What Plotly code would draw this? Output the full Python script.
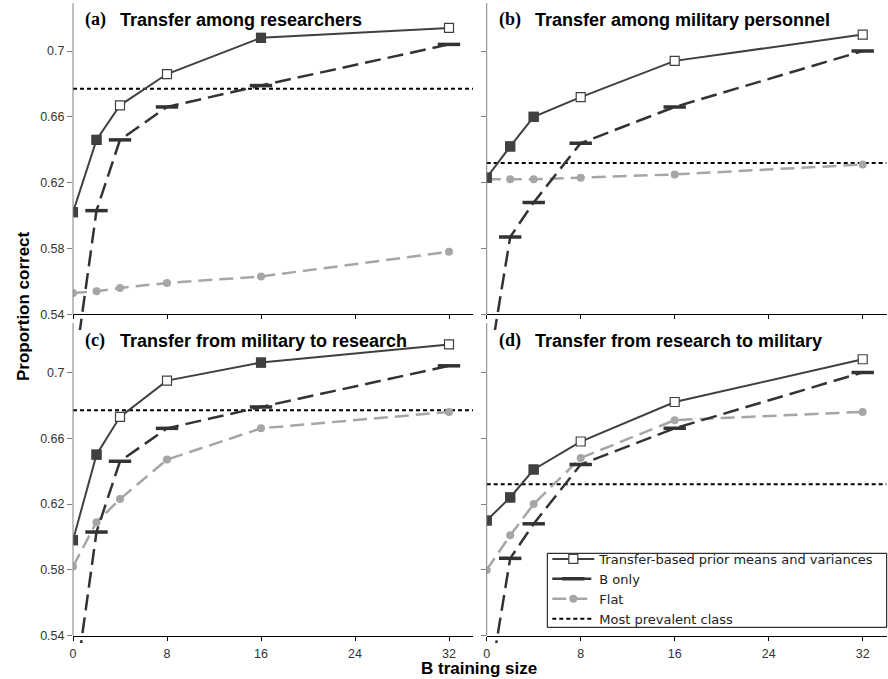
import plotly.graph_objects as go

# ---------------- data ----------------
SIZES = [0, 2, 4, 8, 16, 32]
X_TICKS = [0, 8, 16, 24, 32]
Y_TICKS = [0.54, 0.58, 0.62, 0.66, 0.70]
Y_TICK_TEXT = ["0.54", "0.58", "0.62", "0.66", "0.7"]

PANEL_LETTERS = ["(a)", "(b)", "(c)", "(d)"]
PANEL_TITLES = [
    "Transfer among researchers",
    "Transfer among military personnel",
    "Transfer from military to research",
    "Transfer from research to military",
]

transfer_a = [0.602, 0.646, 0.667, 0.686, 0.708, 0.714]
transfer_b = [0.623, 0.642, 0.660, 0.672, 0.694, 0.710]
transfer_c = [0.598, 0.650, 0.673, 0.695, 0.706, 0.717]
transfer_d = [0.610, 0.624, 0.641, 0.658, 0.682, 0.708]

# filled square = True, open square = False
filled_a = [True, True, False, False, True, False]
filled_b = [True, True, True, False, False, False]
filled_c = [True, True, False, False, True, False]
filled_d = [True, True, True, False, False, False]

bonly_research = [0.500, 0.603, 0.646, 0.666, 0.679, 0.704]
bonly_military = [0.500, 0.587, 0.608, 0.644, 0.666, 0.700]

flat_a = [0.553, 0.554, 0.556, 0.559, 0.563, 0.578]
flat_b = [0.622, 0.622, 0.622, 0.623, 0.625, 0.631]
flat_c = [0.582, 0.609, 0.623, 0.647, 0.666, 0.676]
flat_d = [0.580, 0.601, 0.620, 0.648, 0.671, 0.676]

prevalent_research = 0.677
prevalent_military = 0.632

LEGEND_NAMES = ["Transfer-based prior means and variances", "B only", "Flat",
                "Most prevalent class"]

# ---------------- layout helpers ----------------
W, H = 888, 679
XMAX = 34.04
PX_PER_X = 11.75
PX_PER_Y = 1645.6

def fx(p):
    return p / W

def fy(p):
    return 1 - p / H

panels = [
    dict(transfer=transfer_a, filled=filled_a, bonly=bonly_research, flat=flat_a,
         prev=prevalent_research, left=73.0, axis_py=314.3, top_py=3.0, bot_py=330.0,
         ylabels=True, xlabels=False, letter_x=83, title_x=118, title_y=19.5),
    dict(transfer=transfer_b, filled=filled_b, bonly=bonly_military, flat=flat_b,
         prev=prevalent_military, left=486.7, axis_py=314.3, top_py=3.0, bot_py=330.0,
         ylabels=False, xlabels=False, letter_x=496.7, title_x=532.7, title_y=19.5),
    dict(transfer=transfer_c, filled=filled_c, bonly=bonly_research, flat=flat_c,
         prev=prevalent_research, left=73.0, axis_py=635.7, top_py=323.0, bot_py=643.0,
         ylabels=True, xlabels=True, letter_x=83, title_x=118, title_y=340.5),
    dict(transfer=transfer_d, filled=filled_d, bonly=bonly_military, flat=flat_d,
         prev=prevalent_military, left=486.7, axis_py=635.7, top_py=323.0, bot_py=643.0,
         ylabels=False, xlabels=True, letter_x=496.7, title_x=532.7, title_y=340.5),
]

DARK = "#404040"
BONLY_C = "#333333"
FLAT_C = "#a6a6a6"
FONT = "Liberation Sans, Arial, sans-serif"
SERIF = "Liberation Serif, Times New Roman, serif"

fig = go.Figure()
shapes = []
annotations = []

for i, p in enumerate(panels):
    n = "" if i == 0 else str(i + 1)
    xref, yref = "x" + n, "y" + n
    first = i == 0

    ybot = 0.54 - (p["bot_py"] - p["axis_py"]) / PX_PER_Y
    ytop = 0.54 + (p["axis_py"] - p["top_py"]) / PX_PER_Y

    # most prevalent class
    fig.add_trace(go.Scatter(
        x=[0, XMAX], y=[p["prev"], p["prev"]], mode="lines",
        line=dict(color="black", width=2, dash="4px,3px"),
        name=LEGEND_NAMES[3], legendrank=4, showlegend=first,
        xaxis=xref, yaxis=yref, hoverinfo="skip"))
    # flat
    fig.add_trace(go.Scatter(
        x=SIZES, y=p["flat"], mode="lines+markers",
        line=dict(color=FLAT_C, width=2.5, dash="14px,7px"),
        marker=dict(symbol="circle", size=8, color=FLAT_C),
        name=LEGEND_NAMES[2], legendrank=3, showlegend=first,
        xaxis=xref, yaxis=yref))
    # B only
    fig.add_trace(go.Scatter(
        x=SIZES, y=p["bonly"], mode="lines+markers",
        line=dict(color=BONLY_C, width=2.5, dash="16px,7px"),
        marker=dict(symbol="line-ew", size=16, line=dict(color=BONLY_C, width=3.5)),
        name=LEGEND_NAMES[1], legendrank=2, showlegend=first,
        xaxis=xref, yaxis=yref))
    # transfer (open squares)
    fig.add_trace(go.Scatter(
        x=SIZES, y=p["transfer"], mode="lines+markers",
        line=dict(color=DARK, width=2),
        marker=dict(symbol="square", size=9, color="white",
                    line=dict(color=DARK, width=1.2)),
        name=LEGEND_NAMES[0], legendrank=1, showlegend=first,
        xaxis=xref, yaxis=yref))
    # transfer filled squares
    fx_pts = [s for s, f in zip(SIZES, p["filled"]) if f]
    fy_pts = [v for v, f in zip(p["transfer"], p["filled"]) if f]
    fig.add_trace(go.Scatter(
        x=fx_pts, y=fy_pts, mode="markers",
        marker=dict(symbol="square", size=10, color=DARK),
        showlegend=False, xaxis=xref, yaxis=yref))

    right = p["left"] + XMAX * PX_PER_X
    fig.layout["xaxis" + n] = dict(
        domain=[fx(p["left"]), fx(right)], range=[0, XMAX],
        anchor="free", position=fy(p["axis_py"]), side="bottom",
        showline=True, linecolor="black", linewidth=1, automargin=False,
        tickmode="array", tickvals=X_TICKS, ticktext=[str(t) for t in X_TICKS],
        ticks="outside", ticklen=4, tickcolor="black", tickwidth=1,
        ticklabelstandoff=2,
        showticklabels=p["xlabels"], showgrid=False, zeroline=False,
        tickfont=dict(family=FONT, size=12.5, color="#333333"),
    )
    fig.layout["yaxis" + n] = dict(
        domain=[fy(p["bot_py"]), fy(p["top_py"])], range=[ybot, ytop],
        anchor=xref, showline=False, automargin=False,
        tickmode="array", tickvals=Y_TICKS, ticktext=Y_TICK_TEXT,
        ticks="outside", ticklen=5, tickcolor="#808080", tickwidth=1,
        showticklabels=p["ylabels"], showgrid=False, zeroline=False,
        tickfont=dict(family=FONT, size=12.5, color="#333333"),
    )
    shapes.append(dict(type="line", xref=xref + " domain", yref=yref,
                       x0=0, x1=0, y0=0.54, y1=ytop,
                       line=dict(color="#808080", width=1)))

    annotations.append(dict(text="<b>" + PANEL_LETTERS[i] + "</b>", xref="paper", yref="paper",
                            x=fx(p["letter_x"]), y=fy(p["title_y"]),
                            xanchor="left", yanchor="middle", showarrow=False,
                            font=dict(family=SERIF, size=18, color="black")))
    annotations.append(dict(text="<b>" + PANEL_TITLES[i] + "</b>", xref="paper", yref="paper",
                            x=fx(p["title_x"]), y=fy(p["title_y"]),
                            xanchor="left", yanchor="middle", showarrow=False,
                            font=dict(family=FONT, size=18, color="black")))

annotations.append(dict(text="<b>Proportion correct</b>", xref="paper", yref="paper",
                        x=fx(24), y=fy(306), textangle=-90, showarrow=False,
                        xanchor="center", yanchor="middle",
                        font=dict(family=FONT, size=17, color="black")))
annotations.append(dict(text="<b>B training size</b>", xref="paper", yref="paper",
                        x=fx(479), y=fy(668.5), showarrow=False,
                        xanchor="center", yanchor="middle",
                        font=dict(family=FONT, size=17, color="black")))

# legend frame (box drawn as a shape so its size matches the reference)
shapes.append(dict(type="rect", xref="paper", yref="paper", layer="above",
                   x0=fx(547.3), x1=fx(886.7), y0=fy(627.3), y1=fy(553.3),
                   fillcolor="white", line=dict(color="black", width=1)))

fig.update_layout(
    width=W, height=H,
    margin=dict(l=0, r=0, t=0, b=0, pad=0, autoexpand=False),
    paper_bgcolor="white", plot_bgcolor="rgba(0,0,0,0)",
    shapes=shapes, annotations=annotations,
    showlegend=True,
    legend=dict(x=fx(547.3), y=fy(544.0), xanchor="left", yanchor="top",
                bgcolor="rgba(0,0,0,0)", borderwidth=0,
                font=dict(family="DejaVu Sans, sans-serif", size=13, color="#222222"),
                traceorder="normal", itemwidth=42, tracegroupgap=0),
)

fig.write_html("out.html",
               config={"displayModeBar": False},
               post_script="document.body.style.margin='0';"
                           "document.body.style.overflow='hidden';")
